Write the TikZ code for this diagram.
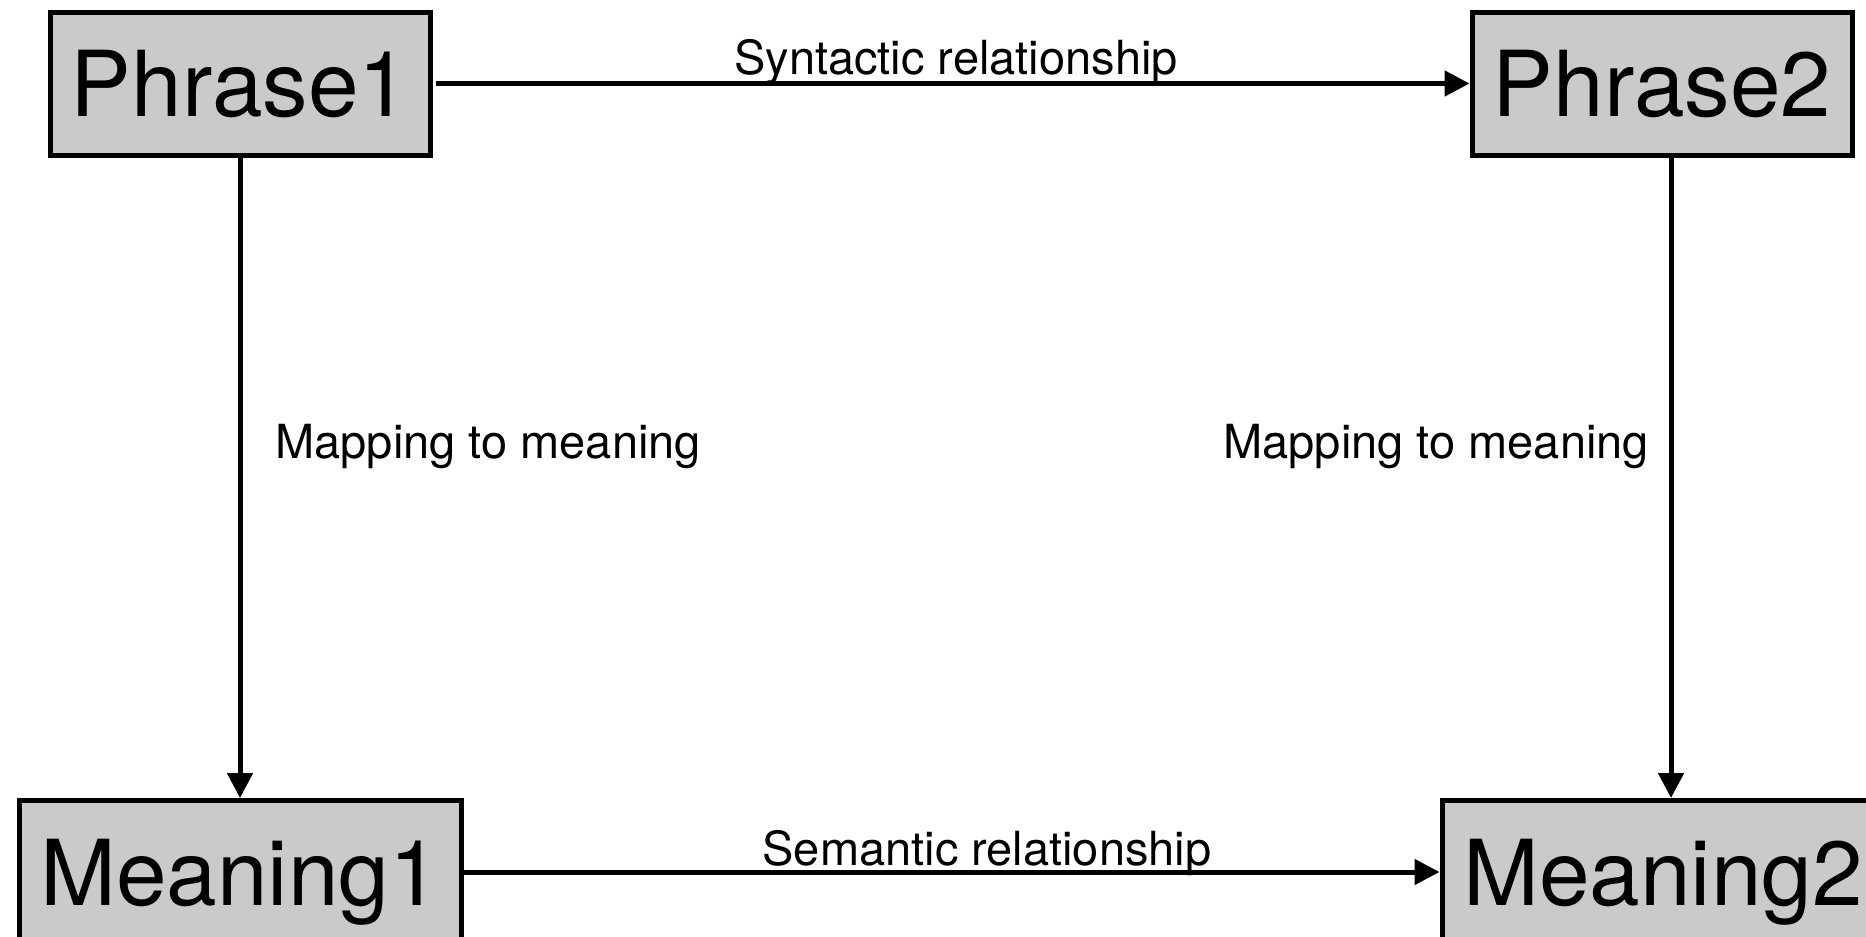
\documentclass[tikz,border=0pt]{standalone}
\usepackage{fontspec}
\setmainfont{TeX Gyre Heros}
\usetikzlibrary{arrows.meta,calc}
\definecolor{boxgray}{HTML}{CACACA}
\begin{document}
\begin{tikzpicture}[x=1pt,y=-1pt,
 box/.style={draw=black,fill=boxgray,line width=5pt,minimum width=#1,minimum height=143pt,inner sep=0pt,font=\fontsize{91}{96}\selectfont,text height=66pt,text depth=0pt},
 arr/.style={line width=5pt,-{Triangle[length=25pt,width=25pt]}},
 lbl/.style={font=\fontsize{47}{50}\selectfont,anchor=base}]
\useasboundingbox (0,0) rectangle (1866,937);
\node[box=380pt] (p1) at (240,83.5) {Phrase1};
\node[box=380pt] (p2) at (1662,83.5) {Phrase2};
\node[box=442pt] (m1) at (240,872) {Meaning1};
\node[box=442pt] (m2) at (1663,872) {Meaning2};
\coordinate (v2) at ($(p2.south)+(9,0)$);
\draw[arr] ([xshift=3pt]p1.east) -- (p2.west);
\draw[arr] (p1.south) -- (m1.north);
\draw[arr] (v2) -- (v2 |- m2.north);
\draw[arr] (m1.east) -- (m2.west);
\node[lbl] (l1) at (956,74) {Syntactic relationship};
\node[lbl] (l2) at (987,865) {Semantic relationship};
\node[lbl,anchor=base west] (l3) at (272,458) {Mapping to meaning};
\node[lbl,anchor=base west] (l4) at (1220,458) {Mapping to meaning};
\end{tikzpicture}
\end{document}
